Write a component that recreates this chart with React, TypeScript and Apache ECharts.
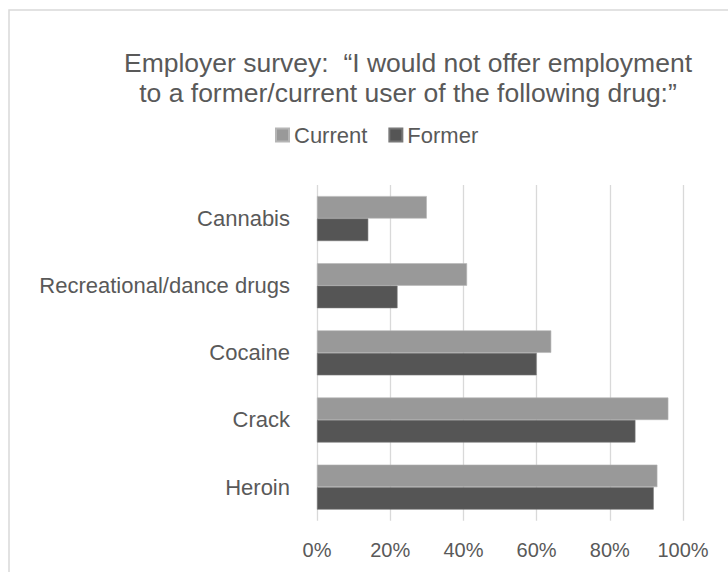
import React, { useEffect, useRef } from "react";
import * as echarts from "echarts";

const categories = ["Cannabis", "Recreational/dance drugs", "Cocaine", "Crack", "Heroin"];
const currentValues = [30, 41, 64, 96, 93];
const formerValues = [14, 22, 60, 87, 92];
const seriesNames = ["Current", "Former"];
const titleLines = [
  "Employer survey:  \u201cI would not offer employment",
  "to a former/current user of the following drug:\u201d",
];

const FONT = "'Liberation Sans', Arial, sans-serif";
const TEXT = "#595959";

export default function App() {
  const ref = useRef<HTMLDivElement>(null);
  useEffect(() => {
    if (!ref.current) return;
    const chart = echarts.init(ref.current, null, { renderer: "svg" });
    chart.setOption({
      animation: false,
      backgroundColor: "#ffffff",
      textStyle: { fontFamily: FONT, color: TEXT },
      title: {
        text: titleLines.join("\n"),
        left: 403,
        top: 43,
        textAlign: "center",
        textStyle: {
          fontFamily: FONT,
          fontSize: 26.5,
          fontWeight: "normal",
          color: TEXT,
          lineHeight: 30,
        },
      },
      legend: {
        data: seriesNames,
        left: 270,
        top: 119,
        icon: "rect",
        itemWidth: 13,
        itemHeight: 13,
        itemGap: 21,
        textStyle: { fontFamily: FONT, fontSize: 22, color: TEXT },
      },
      graphic: [
        {
          type: "rect",
          shape: { x: 9, y: 10, width: 1000, height: 1000 },
          style: { fill: "none", stroke: "#d9d9d9", lineWidth: 1.5 },
          silent: true,
        },
      ],
      grid: { left: 317, right: 45, top: 185, bottom: 51.3, containLabel: false },
      xAxis: {
        type: "value",
        min: 0,
        max: 100,
        interval: 20,
        axisLine: { show: false },
        axisTick: { show: false },
        splitLine: { show: true, lineStyle: { color: "#d9d9d9", width: 1.3 } },
        axisLabel: {
          formatter: "{value}%",
          fontFamily: FONT,
          fontSize: 20,
          color: TEXT,
          margin: 19,
        },
      },
      yAxis: {
        type: "category",
        data: categories,
        inverse: true,
        axisLine: { show: false },
        axisTick: { show: false },
        axisLabel: { fontFamily: FONT, fontSize: 22, color: TEXT, margin: 27 },
      },
      series: [
        {
          name: seriesNames[0],
          type: "bar",
          data: currentValues,
          barGap: "0%",
          barCategoryGap: "33%",
          itemStyle: { color: "#999999", borderColor: "#b5b5b5", borderWidth: 0.6 },
        },
        {
          name: seriesNames[1],
          type: "bar",
          data: formerValues,
          barGap: "0%",
          barCategoryGap: "33%",
          itemStyle: { color: "#555555", borderColor: "#777777", borderWidth: 0.6 },
        },
      ],
    });
    return () => chart.dispose();
  }, []);
  return (
    <div
      ref={ref}
      style={{ position: "fixed", left: 0, top: 0, width: 728, height: 572 }}
    />
  );
}
